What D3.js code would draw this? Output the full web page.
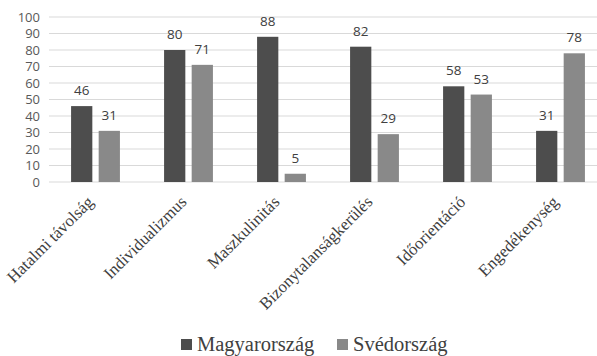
<!DOCTYPE html>
<html>
<head>
<meta charset="utf-8">
<script src="https://cdn.jsdelivr.net/npm/d3@7"></script>
<style>
  html, body { margin: 0; padding: 0; background: #fff; }
  svg { display: block; }
</style>
</head>
<body>
<svg id="chart" width="597" height="356"></svg>
<script>
// Hofstede dimensions: Hungary vs Sweden
const categories = ["Hatalmi távolság", "Individualizmus", "Maszkulinitás",
                    "Bizonytalanságkerülés", "Időorientáció", "Engedékenység"];
const seriesNames = ["Magyarország", "Svédország"];
const magyarorszag = [46, 80, 88, 82, 58, 31];
const svedorszag = [31, 71, 5, 29, 53, 78];
const yTicks = [0, 10, 20, 30, 40, 50, 60, 70, 80, 90, 100];
const colors = ["#4d4d4d", "#898989"];

const svg = d3.select("#chart");
const W = 597, H = 356;

const x = d3.scaleBand().domain(categories).range([49, 607]).paddingInner(0).paddingOuter(0);
const y = d3.scaleLinear().domain([0, 100]).range([182, 17]);
const xs = d3.scaleBand().domain(seriesNames).range([0, 93]).paddingInner(0.23).paddingOuter(0.8);

const sans = "'Open Sans', 'Noto Sans', sans-serif";
const serif = "'Liberation Serif', 'Times New Roman', serif";

// gridlines
svg.append("g")
  .selectAll("line")
  .data(yTicks)
  .join("line")
  .attr("x1", 49).attr("x2", W)
  .attr("y1", d => y(d)).attr("y2", d => y(d))
  .attr("stroke", "#d9d9d9").attr("stroke-width", 1.2);

// y axis labels
const yAxis = svg.append("g")
  .attr("transform", "translate(40,0)")
  .call(d3.axisLeft(y).tickValues(yTicks).tickSize(0).tickPadding(0));
yAxis.select(".domain").remove();
yAxis.selectAll("text")
  .attr("font-family", sans).attr("font-size", 13).attr("fill", "#595959");

// bars
const seriesData = [magyarorszag, svedorszag];
seriesNames.forEach((name, si) => {
  const g = svg.append("g");
  g.selectAll("rect")
    .data(categories.map((c, i) => ({ c, v: seriesData[si][i] })))
    .join("rect")
    .attr("x", d => x(d.c) + xs(name))
    .attr("width", xs.bandwidth())
    .attr("y", d => y(d.v))
    .attr("height", d => y(0) - y(d.v))
    .attr("fill", colors[si]);
  g.selectAll("text")
    .data(categories.map((c, i) => ({ c, v: seriesData[si][i] })))
    .join("text")
    .attr("x", d => x(d.c) + xs(name) + xs.bandwidth() / 2)
    .attr("y", d => y(d.v) - 11)
    .attr("text-anchor", "middle")
    .attr("font-family", sans).attr("font-size", 13.5).attr("fill", "#404040")
    .text(d => d.v);
});

// category labels, rotated
const xAxis = svg.append("g")
  .attr("transform", `translate(0,${y(0)})`)
  .call(d3.axisBottom(x).tickSize(0).tickPadding(0));
xAxis.select(".domain").remove();
xAxis.selectAll("text")
  .attr("font-family", serif).attr("font-size", 16.8).attr("fill", "#404040")
  .attr("text-anchor", "end")
  .attr("dy", 0)
  .attr("transform", "translate(-1,21) rotate(-45)");

// legend
const legend = svg.append("g").attr("transform", "translate(181,351)");
const items = [{ name: seriesNames[0], x: 0 }, { name: seriesNames[1], x: 156 }];
items.forEach((it, i) => {
  legend.append("rect")
    .attr("x", it.x).attr("y", -12).attr("width", 11).attr("height", 11)
    .attr("fill", colors[i]);
  legend.append("text")
    .attr("x", it.x + 16).attr("y", 0)
    .attr("font-family", serif).attr("font-size", 20.5).attr("fill", "#404040")
    .text(it.name);
});
</script>
</body>
</html>
